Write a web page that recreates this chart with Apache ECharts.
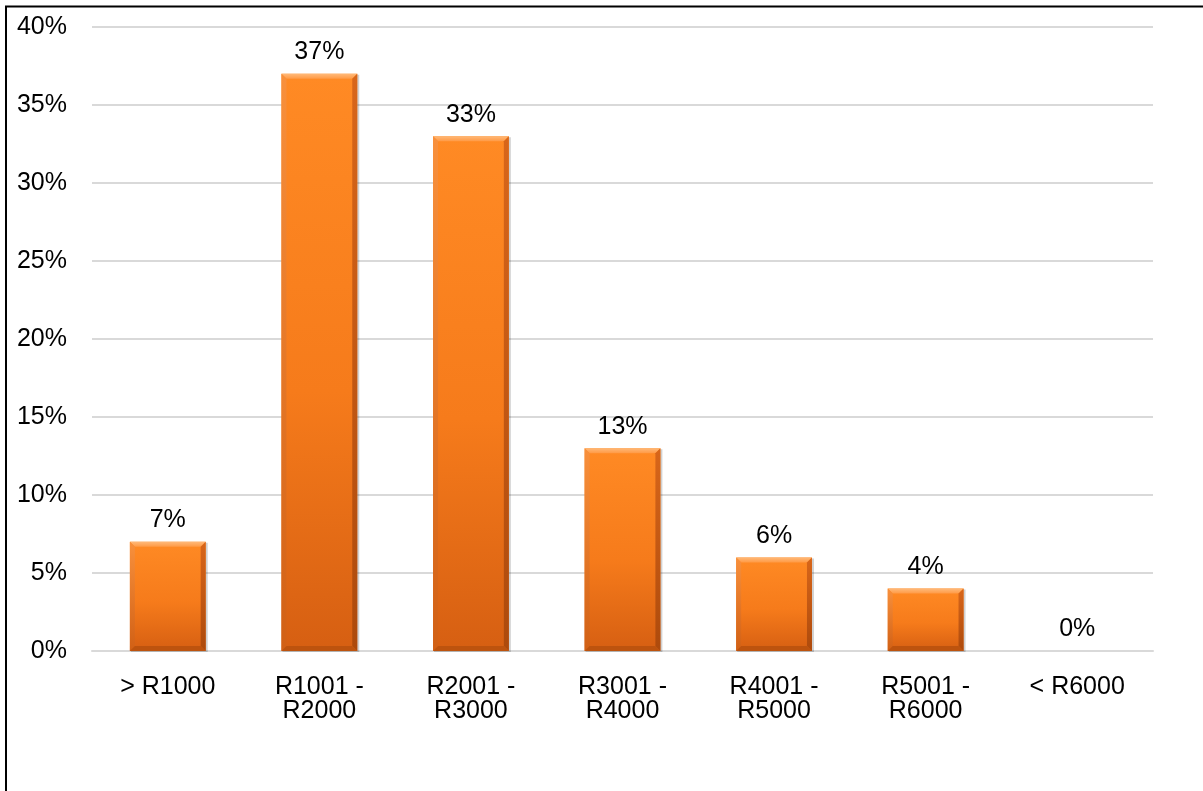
<!DOCTYPE html>
<html>
<head>
<meta charset="utf-8">
<script src="https://cdn.jsdelivr.net/npm/echarts@6/dist/echarts.min.js"></script>
<style>
  html, body { margin: 0; padding: 0; background: #ffffff; }
  #chart { width: 1203px; height: 791px; }
</style>
</head>
<body>
<div id="chart"></div>
<script>
// Income bands and share of respondents in each (percent)
const categories = ['> R1000', 'R1001 -\nR2000', 'R2001 -\nR3000', 'R3001 -\nR4000', 'R4001 -\nR5000', 'R5001 -\nR6000', '< R6000'];
const shares = [7, 37, 33, 13, 6, 4, 0];
const yTicks = { min: 0, max: 40, interval: 5 };

const chart = echarts.init(document.getElementById('chart'), null, { renderer: 'canvas' });

const font = '"Liberation Sans", Arial, sans-serif';
const G = echarts.graphic;

// Bevelled bar: face plus four edge facets
function renderBevelBar(params, api) {
  const idx = api.value(0);
  const val = api.value(1);
  const top = api.coord([idx, val]);
  const base = api.coord([idx, 0]);
  const w = api.size([1, 0])[0] * 0.5;
  const x0 = top[0] - w / 2, x1 = top[0] + w / 2;
  const y0 = top[1], y1 = base[1];
  if (y1 - y0 < 1) return null;
  const b = Math.min(5, (y1 - y0) / 2);
  return {
    type: 'group',
    children: [
      { type: 'rect', shape: { x: x0 + 1, y: y0 + 1, width: w + 1, height: y1 - y0 },
        style: { fill: 'rgba(0,0,0,0.18)' } },
      { type: 'rect', shape: { x: x0, y: y0, width: w, height: y1 - y0 },
        style: { fill: new G.LinearGradient(0, 0, 0, 1, [
          { offset: 0, color: '#ff8a24' },
          { offset: 0.55, color: '#f67b1b' },
          { offset: 1, color: '#d65f12' }
        ]) } },
      { type: 'polygon', shape: { points: [[x0, y0], [x1, y0], [x1 - b, y0 + b], [x0 + b, y0 + b]] },
        style: { fill: new G.LinearGradient(0, 0, 0, 1, [
          { offset: 0, color: '#ffb979' }, { offset: 1, color: '#ff9a45' }
        ]) } },
      { type: 'polygon', shape: { points: [[x0, y0], [x0 + b, y0 + b], [x0 + b, y1 - b], [x0, y1]] },
        style: { fill: new G.LinearGradient(0, 0, 0, 1, [
          { offset: 0, color: '#f8903c' }, { offset: 1, color: '#d16015' }
        ]) } },
      { type: 'polygon', shape: { points: [[x1, y0], [x1 - b, y0 + b], [x1 - b, y1 - b], [x1, y1]] },
        style: { fill: new G.LinearGradient(0, 0, 0, 1, [
          { offset: 0, color: '#d8661a' }, { offset: 1, color: '#ad4a0c' }
        ]) } },
      { type: 'polygon', shape: { points: [[x0, y1], [x0 + b, y1 - b], [x1 - b, y1 - b], [x1, y1]] },
        style: { fill: '#bd530e' } }
    ]
  };
}

chart.setOption({
  animation: false,
  backgroundColor: '#ffffff',
  graphic: [{
    type: 'polyline',
    shape: { points: [[6, 800], [6, 6.5], [1210, 6.5]] },
    style: { stroke: '#000000', lineWidth: 2, fill: null }
  }],
  grid: { left: 92, right: 50, top: 27, bottom: 140, containLabel: false },
  xAxis: {
    type: 'category',
    data: categories,
    axisLine: { show: true, lineStyle: { color: '#d9d9d9', width: 2 } },
    axisTick: { show: false },
    axisLabel: { color: '#000000', fontFamily: font, fontSize: 25, margin: 24, lineHeight: 24, interval: 0 }
  },
  yAxis: {
    type: 'value',
    min: yTicks.min,
    max: yTicks.max,
    interval: yTicks.interval,
    axisLine: { show: false },
    axisTick: { show: false },
    splitLine: { lineStyle: { color: '#d9d9d9', width: 2 } },
    axisLabel: { color: '#000000', fontFamily: font, fontSize: 25, margin: 25, formatter: v => v + '%' }
  },
  series: [
    {
      // invisible bars carry the value labels
      type: 'bar',
      data: shares,
      barWidth: '50%',
      itemStyle: { color: 'rgba(0,0,0,0)' },
      label: {
        show: true,
        position: 'top',
        distance: 9,
        color: '#000000',
        fontFamily: font,
        fontSize: 25,
        formatter: p => p.value + '%'
      },
      z: 3
    },
    {
      type: 'custom',
      renderItem: renderBevelBar,
      data: shares.map((v, i) => [i, v]),
      encode: { x: 0, y: 1 },
      z: 2
    }
  ]
});
</script>
</body>
</html>
